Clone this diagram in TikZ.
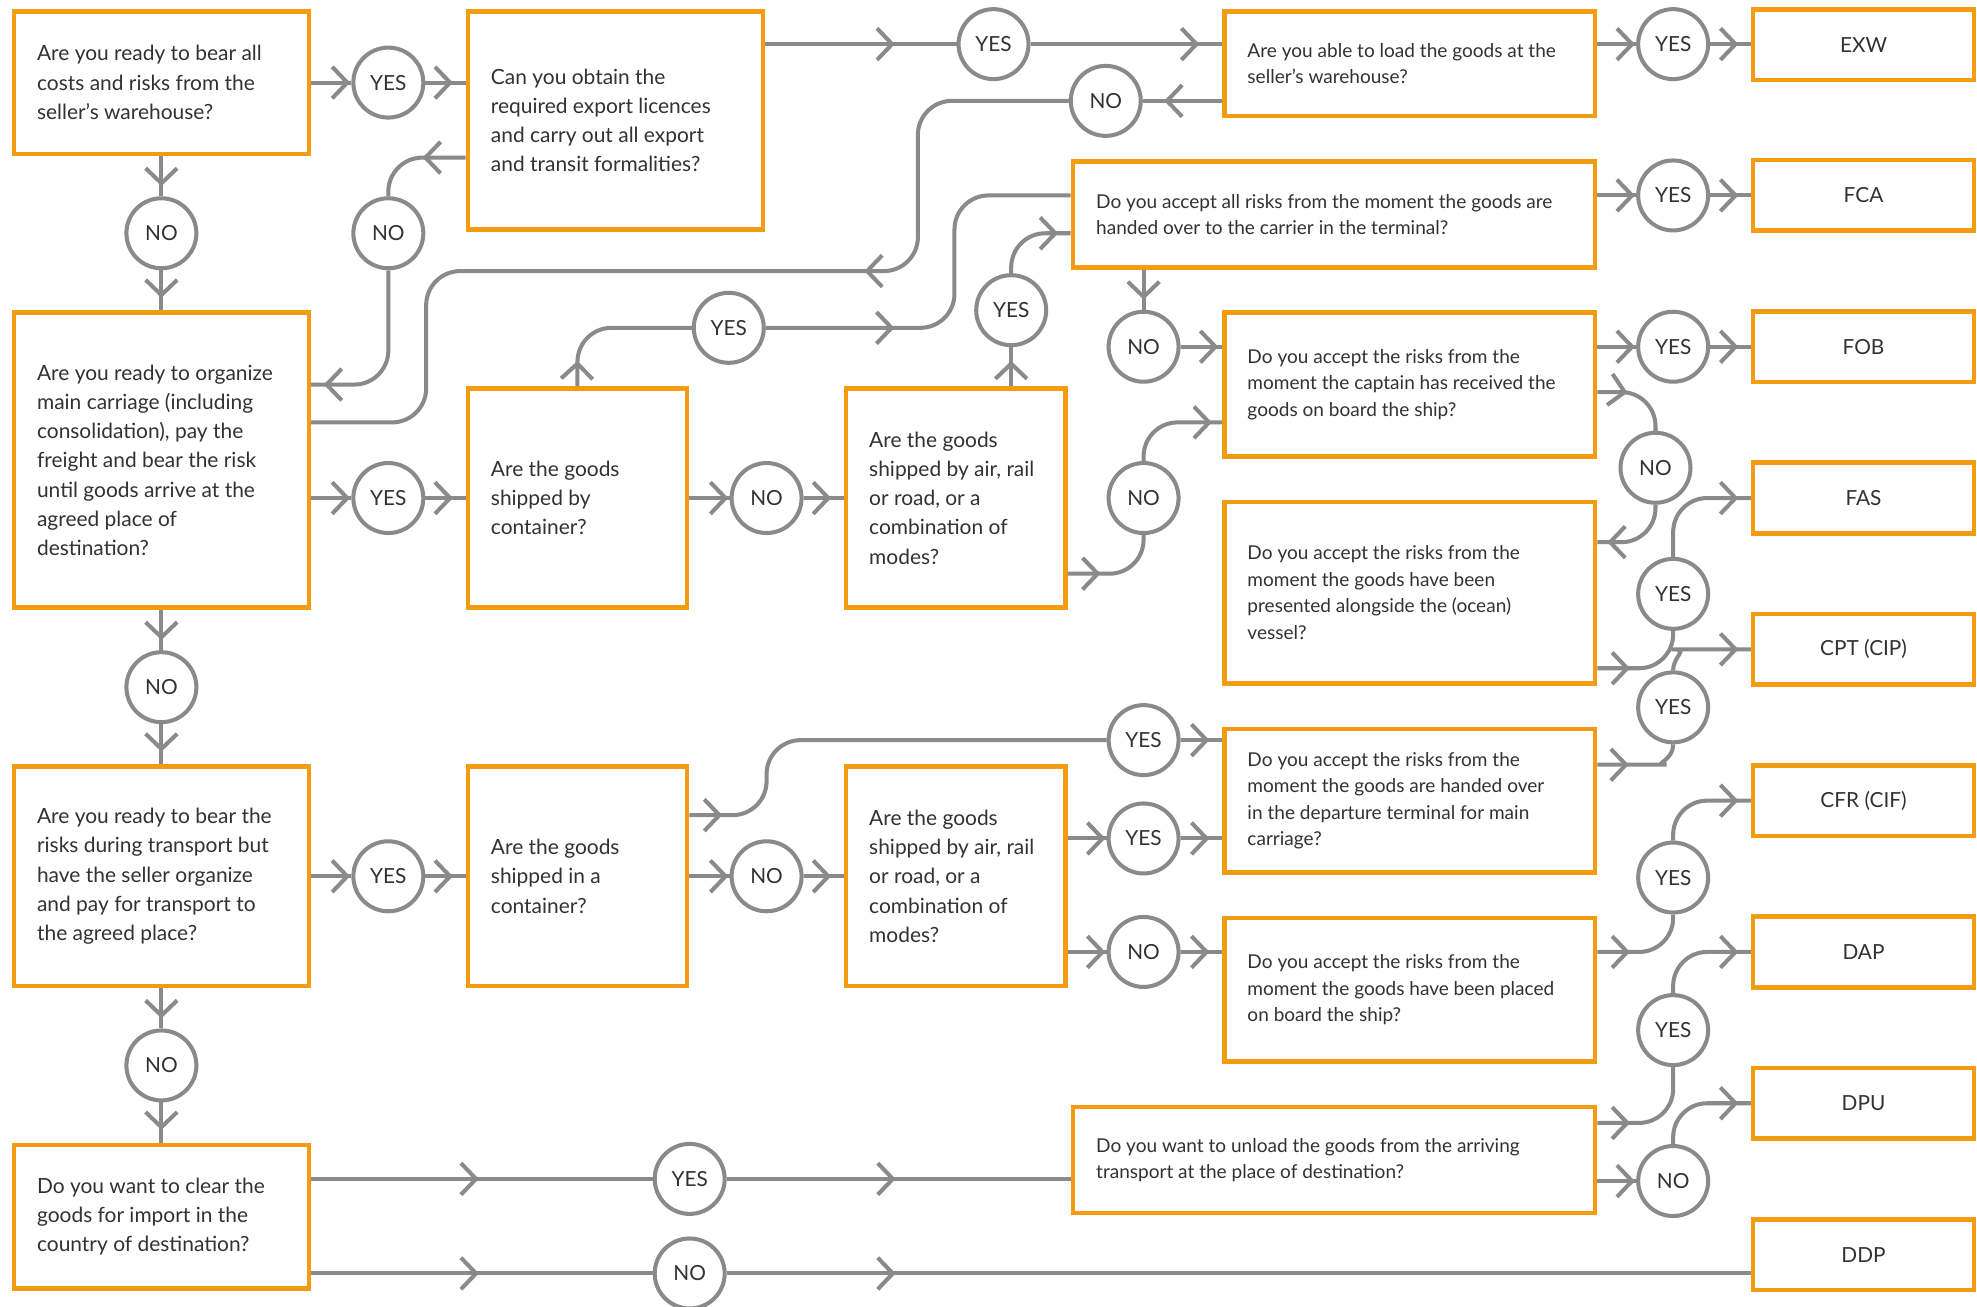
\documentclass[tikz,border=0pt]{standalone}
\usepackage{fontspec}
\setmainfont{Lato}
\usetikzlibrary{arrows.meta,decorations.markings,calc}
\definecolor{borange}{RGB}{243,156,18}
\definecolor{lgray}{RGB}{138,138,138}
\definecolor{tcol}{RGB}{50,50,50}
\newcommand\qfontL{\fontsize{16.6pt}{23.2pt}\selectfont}
\newcommand\qfontR{\fontsize{15.1pt}{21pt}\selectfont}
\newcommand\qfontC{\fontsize{16.5pt}{20pt}\selectfont}
\tikzset{
  qbox/.style={draw=borange, line width=3.6pt, inner sep=0pt, rectangle},
  abox/.style={draw=borange, line width=3.6pt, inner sep=0pt, rectangle, minimum width=175pt, minimum height=56pt, font=\qfontC, text=tcol},
  qtxtL/.style={anchor=west, align=left, inner sep=0pt, font=\qfontL, text=tcol},
  qtxtR/.style={anchor=west, align=left, inner sep=0pt, font=\qfontR, text=tcol},
  circ/.style={circle, draw=lgray, line width=3.2pt, minimum size=55.5pt, inner sep=0pt, font=\qfontC, text=tcol},
  conn/.style={draw=lgray, line width=3.2pt, rounded corners=27pt},
  chev/.style={postaction={decorate,decoration={markings,mark=at position #1 with {\arrow{Straight Barb[length=12pt,width=25pt]}}}}},
}
\begin{document}
\begin{tikzpicture}[x=1pt,y=1pt]
\fill[white] (0,0) rectangle (1568,-1036);
\useasboundingbox (0,0) rectangle (1568,-1036);
% question boxes
\node[qbox, minimum width=234pt, minimum height=113pt] (A) at (128,-65.5) {};
\node[qbox, minimum width=234pt, minimum height=173pt] (B) at (488,-95.5) {};
\node[qbox, minimum width=294pt, minimum height=83pt] (C) at (1118,-50.5) {};
\node[qbox, minimum width=414pt, minimum height=84pt] (D) at (1058,-170) {};
\node[qbox, minimum width=234pt, minimum height=234pt] (E) at (128,-365) {};
\node[qbox, minimum width=174pt, minimum height=174pt] (F) at (458,-395) {};
\node[qbox, minimum width=174pt, minimum height=174pt] (G) at (758,-395) {};
\node[qbox, minimum width=294pt, minimum height=114pt] (H) at (1118,-305) {};
\node[qbox, minimum width=294pt, minimum height=144pt] (I) at (1118,-470) {};
\node[qbox, minimum width=234pt, minimum height=174pt] (J) at (128,-695) {};
\node[qbox, minimum width=174pt, minimum height=174pt] (K) at (458,-695) {};
\node[qbox, minimum width=174pt, minimum height=174pt] (L) at (758,-695) {};
\node[qbox, minimum width=294pt, minimum height=114pt] (M) at (1118,-635) {};
\node[qbox, minimum width=294pt, minimum height=114pt] (N) at (1118,-785) {};
\node[qbox, minimum width=234pt, minimum height=114pt] (O) at (128,-965) {};
\node[qbox, minimum width=414pt, minimum height=84pt] (P) at (1058,-920) {};
% texts
\node[qtxtL] (tA) at ([xshift=20pt]A.west) {Are you ready to bear all\\costs and risks from the\\seller’s warehouse?};
\node[qtxtL] (tB) at ([xshift=20pt]B.west) {Can you obtain the\\required export licences\\and carry out all export\\and transit formalities?};
\node[qtxtR] (tC) at ([xshift=20pt]C.west) {Are you able to load the goods at the\\seller’s warehouse?};
\node[qtxtR] (tD) at ([xshift=20pt]D.west) {Do you accept all risks from the moment the goods are\\handed over to the carrier in the terminal?};
\node[qtxtL] (tE) at ([xshift=20pt]E.west) {Are you ready to organize\\main carriage (including\\consolidation), pay the\\freight and bear the risk\\until goods arrive at the\\agreed place of\\destination?};
\node[qtxtL] (tF) at ([xshift=20pt]F.west) {Are the goods\\shipped by\\container?};
\node[qtxtL] (tG) at ([xshift=20pt]G.west) {Are the goods\\shipped by air, rail\\or road, or a\\combination of\\modes?};
\node[qtxtR] (tH) at ([xshift=20pt]H.west) {Do you accept the risks from the\\moment the captain has received the\\goods on board the ship?};
\node[qtxtR] (tI) at ([xshift=20pt]I.west) {Do you accept the risks from the\\moment the goods have been\\presented alongside the (ocean)\\vessel?};
\node[qtxtL] (tJ) at ([xshift=20pt]J.west) {Are you ready to bear the\\risks during transport but\\have the seller organize\\and pay for transport to\\the agreed place?};
\node[qtxtL] (tK) at ([xshift=20pt]K.west) {Are the goods\\shipped in a\\container?};
\node[qtxtL] (tL) at ([xshift=20pt]L.west) {Are the goods\\shipped by air, rail\\or road, or a\\combination of\\modes?};
\node[qtxtR] (tM) at ([xshift=20pt]M.west) {Do you accept the risks from the\\moment the goods are handed over\\in the departure terminal for main\\carriage?};
\node[qtxtR] (tN) at ([xshift=20pt]N.west) {Do you accept the risks from the\\moment the goods have been placed\\on board the ship?};
\node[qtxtL] (tO) at ([xshift=20pt]O.west) {Do you want to clear the\\goods for import in the\\country of destination?};
\node[qtxtR] (tP) at ([xshift=20pt]P.west) {Do you want to unload the goods from the arriving\\transport at the place of destination?};
% answer boxes
\node[abox] (EXW) at (1478,-35.5) {EXW};
\node[abox] (FCA) at (1478,-155) {FCA};
\node[abox] (FOB) at (1478,-275) {FOB};
\node[abox] (FAS) at (1478,-395) {FAS};
\node[abox] (CPT) at (1478,-515) {CPT (CIP)};
\node[abox] (CFR) at (1478,-635) {CFR (CIF)};
\node[abox] (DAP) at (1478,-755) {DAP};
\node[abox] (DPU) at (1478,-875) {DPU};
\node[abox] (DDP) at (1478,-995) {DDP};
% circles
\node[circ] (c1) at (308,-65.5) {YES};
\node[circ] (c2) at (128,-185) {NO};
\node[circ] (c3) at (308,-185) {NO};
\node[circ] (c4) at (788,-35) {YES};
\node[circ] (c5) at (1327,-35) {YES};
\node[circ] (c6) at (877,-80) {NO};
\node[circ] (c7) at (1327,-155) {YES};
\node[circ] (c8) at (578,-260) {YES};
\node[circ] (c9) at (802,-246) {YES};
\node[circ] (c10) at (907,-275) {NO};
\node[circ] (c11) at (1327,-275) {YES};
\node[circ] (c12) at (1313,-371) {NO};
\node[circ] (c13) at (308,-395) {YES};
\node[circ] (c14) at (608,-395) {NO};
\node[circ] (c15) at (907,-395) {NO};
\node[circ] (c16) at (1327,-471) {YES};
\node[circ] (c17) at (128,-545) {NO};
\node[circ] (c18) at (1327,-561) {YES};
\node[circ] (c19) at (907,-587) {YES};
\node[circ] (c20) at (907,-665) {YES};
\node[circ] (c21) at (308,-695) {YES};
\node[circ] (c22) at (608,-695) {NO};
\node[circ] (c23) at (1327,-696) {YES};
\node[circ] (c24) at (907,-755) {NO};
\node[circ] (c25) at (1327,-817) {YES};
\node[circ] (c26) at (128,-845) {NO};
\node[circ] (c27) at (547,-935) {YES};
\node[circ] (c28) at (1327,-936.7) {NO};
\node[circ] (c29) at (547,-1010) {NO};
% connectors
\draw[conn, chev=-1pt] (A.east) -- (c1.west);
\draw[conn, chev=-10pt] (c1.east) -- (c1.east -| B.west);
\draw[conn, chev=-8pt] (A.south) -- (c2.north);
\draw[conn, chev=-10pt] (c2.south) -- (E.north);
\draw[conn, chev=103pt] (c4 -| B.east) -- (c4.west);
\draw[conn, chev=-18pt] (c4.east) -- (c4.east -| C.west);
\draw[conn, chev=-1pt] (c5 -| C.east) -- (c5.west);
\draw[conn, chev=-10pt] (c5.east) -- (c5.east -| EXW.west);
\draw[conn, chev=-17pt] (c6 -| C.west) -- (c6.east);
\draw[conn, chev=274pt] (c6.west) -- (728,-80) -- (728,-215) -- (338,-215) -- (338,-335) -- ([yshift=30pt]E.east);
\draw[conn, chev=34pt] ([yshift=-29.5pt]B.west) -| (c3.north);
\draw[conn, chev=-10pt] (c3.south) |- ([yshift=60pt]E.east);
\draw[conn, chev=20pt] (F.north) |- (c8.west);
\draw[conn, chev=102pt] (c8.east) -- (757,-260) -- (757,-155) -- ([yshift=15pt]D.west);
\draw[conn, chev=20pt] (c9.south |- G.north) -- (c9.south);
\draw[conn, chev=-10pt] (c9.north) |- ([yshift=-15pt]D.west);
\draw[conn, chev=-1pt] (c7 -| D.east) -- (c7.west);
\draw[conn, chev=-10pt] (c7.east) -- (c7.east -| FCA.west);
\draw[conn, chev=-8pt] (c10.north |- D.south) -- (c10.north);
\draw[conn, chev=-3pt] (c10.east) -- (c10.east -| H.west);
\draw[conn, chev=-1pt] (c11 -| H.east) -- (c11.west);
\draw[conn, chev=-10pt] (c11.east) -- (c11.east -| FOB.west);
\draw[conn, chev=24pt] ([yshift=-6pt]H.east) -| (c12.north);
\draw[conn, chev=-8pt] (c12.south) |- ([yshift=40pt]I.east);
\draw[conn, chev=-1pt] (c13 -| E.east) -- (c13.west);
\draw[conn, chev=-10pt] (c13.east) -- (c13.east -| F.west);
\draw[conn, chev=-1pt] (F.east) -- (c14.west);
\draw[conn, chev=-10pt] (c14.east) -- (G.west);
\draw[conn, chev=26pt] ([yshift=-60pt]G.east) -| (c15.south);
\draw[conn, chev=-8pt] (c15.north) |- ([yshift=-30pt]H.west);
\draw[conn, chev=26pt] ([yshift=-60pt]I.east) -| (c16.south);
\draw[conn, chev=-10pt] (c16.north) |- (FAS.west);
\draw[conn, chev=-8pt] (E.south) -- (c17.north);
\draw[conn, chev=-10pt] (c17.south) -- (J.north);
\draw[conn, chev=25pt] ([yshift=28.5pt]M.east) -- ++(28,0) to[out=0,in=-90] (c18.south);
\draw[conn, chev=-10pt] (c18.north) to[out=90,in=180] ($(CPT.west)+(-36,0)$) -- (CPT.west);
\draw[conn, chev=26pt] ([yshift=48.5pt]K.east) -- (608,-646.5) -- (608,-587) -- (c19.west);
\draw[conn, chev=-10pt] (c19.east) -- (c19.east -| M.west);
\draw[conn, chev=-1pt] (c20 -| L.east) -- (c20.west);
\draw[conn, chev=-10pt] (c20.east) -- (c20.east -| M.west);
\draw[conn, chev=-1pt] (J.east) -- (c21.west);
\draw[conn, chev=-10pt] (c21.east) -- (K.west);
\draw[conn, chev=-1pt] (K.east) -- (c22.west);
\draw[conn, chev=-10pt] (c22.east) -- (L.west);
\draw[conn, chev=-1pt] (c24 -| L.east) -- (c24.west);
\draw[conn, chev=-10pt] (c24.east) -- (c24.east -| N.west);
\draw[conn, chev=26pt] ([yshift=30pt]N.east) -| (c23.south);
\draw[conn, chev=-10pt] (c23.north) |- (CFR.west);
\draw[conn, chev=26pt] ([yshift=29.4pt]P.east) -| (c25.south);
\draw[conn, chev=-10pt] (c25.north) |- (DAP.west);
\draw[conn, chev=-1pt] (c28 -| P.east) -- (c28.west);
\draw[conn, chev=-10pt] (c28.north) |- (DPU.west);
\draw[conn, chev=-8pt] (J.south) -- (c26.north);
\draw[conn, chev=-10pt] (c26.south) -- (O.north);
\draw[conn, chev=133pt] (c27 -| O.east) -- (c27.west);
\draw[conn, chev=134pt] (c27.east) -- (c27.east -| P.west);
\draw[conn, chev=133pt] (c29 -| O.east) -- (c29.west);
\draw[conn, chev=134pt] (c29.east) -- (c29.east -| DDP.west);
\end{tikzpicture}
\end{document}
